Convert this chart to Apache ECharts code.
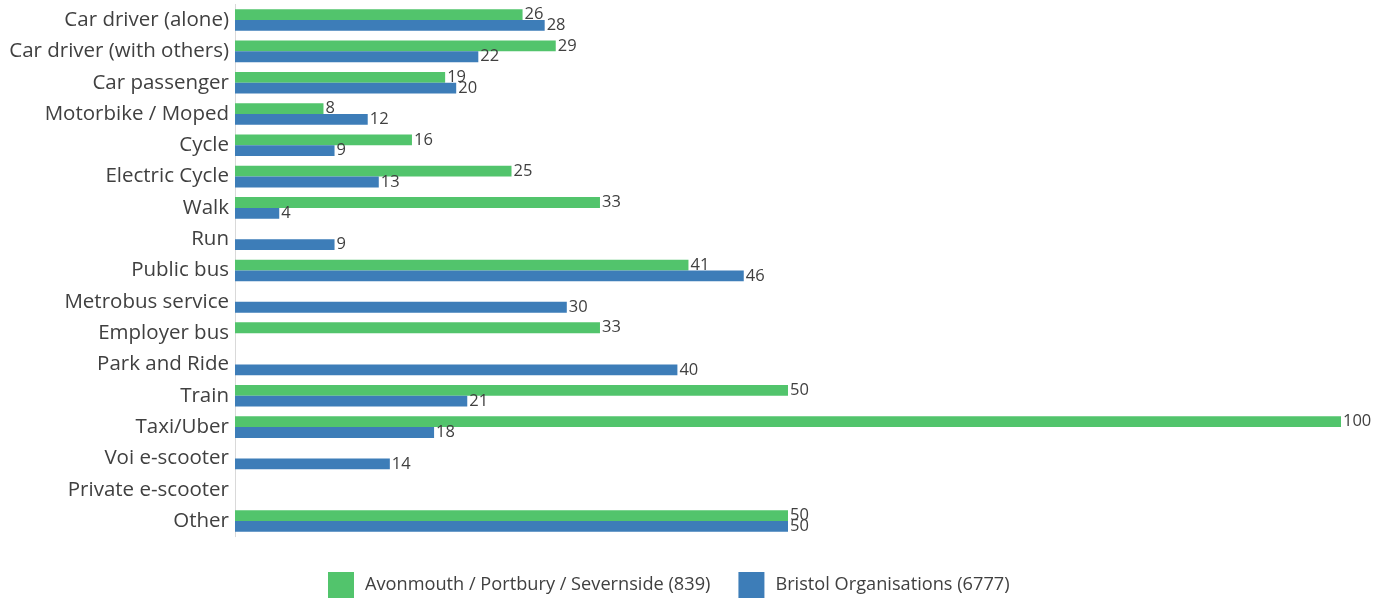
<!DOCTYPE html>
<html>
<head>
<meta charset="utf-8">
<script src="https://cdn.jsdelivr.net/npm/echarts@6/dist/echarts.min.js"></script>
<style>
  html, body { margin: 0; padding: 0; background: #fff; }
  #chart { width: 1384px; height: 599px; }
</style>
</head>
<body>
<div id="chart"></div>
<script>
// Travel modes, listed top to bottom
const categories = [
  'Car driver (alone)', 'Car driver (with others)', 'Car passenger', 'Motorbike / Moped',
  'Cycle', 'Electric Cycle', 'Walk', 'Run', 'Public bus', 'Metrobus service',
  'Employer bus', 'Park and Ride', 'Train', 'Taxi/Uber', 'Voi e-scooter',
  'Private e-scooter', 'Other'
];
const avonmouth = [26, 29, 19, 8, 16, 25, 33, 0, 41, 0, 33, 0, 50, 100, 0, 0, 50];
const bristol   = [28, 22, 20, 12, 9, 13, 4, 9, 46, 30, 0, 40, 21, 18, 14, 0, 50];
const seriesNames = ['Avonmouth / Portbury / Severnside (839)', 'Bristol Organisations (6777)'];

const FONT = 'Open Sans';
const TEXT = '#404040';

const valueLabel = {
  show: true,
  position: 'right',
  distance: 2,
  color: TEXT,
  fontFamily: FONT,
  fontSize: 16.5,
  formatter: p => (p.value ? p.value : '')
};

const chart = echarts.init(document.getElementById('chart'), null, { renderer: 'canvas' });
chart.setOption({
  animation: false,
  textStyle: { fontFamily: FONT },
  grid: { left: 235, right: 43, top: 4.4, bottom: 62.3, containLabel: false },
  legend: {
    data: seriesNames,
    top: 572,
    left: 328,
    padding: 0,
    itemWidth: 26,
    itemHeight: 26,
    itemGap: 28,
    icon: 'rect',
    textStyle: { color: TEXT, fontFamily: FONT, fontSize: 18.2, padding: [3, 0, 0, 6] }
  },
  xAxis: {
    type: 'value',
    min: 0,
    max: 100,
    show: false
  },
  yAxis: {
    type: 'category',
    data: categories,
    inverse: true,
    axisTick: { show: false },
    axisLine: { show: true, lineStyle: { color: '#d9d9d9', width: 1 } },
    axisLabel: { color: TEXT, fontFamily: FONT, fontSize: 20.5, margin: 6 }
  },
  series: [
    {
      name: seriesNames[0],
      type: 'bar',
      data: avonmouth,
      itemStyle: { color: '#52C46C' },
      barGap: '0%',
      barCategoryGap: '31%',
      label: valueLabel
    },
    {
      name: seriesNames[1],
      type: 'bar',
      data: bristol,
      itemStyle: { color: '#3D7DB8' },
      barGap: '0%',
      barCategoryGap: '31%',
      label: valueLabel
    }
  ]
});
</script>
</body>
</html>
